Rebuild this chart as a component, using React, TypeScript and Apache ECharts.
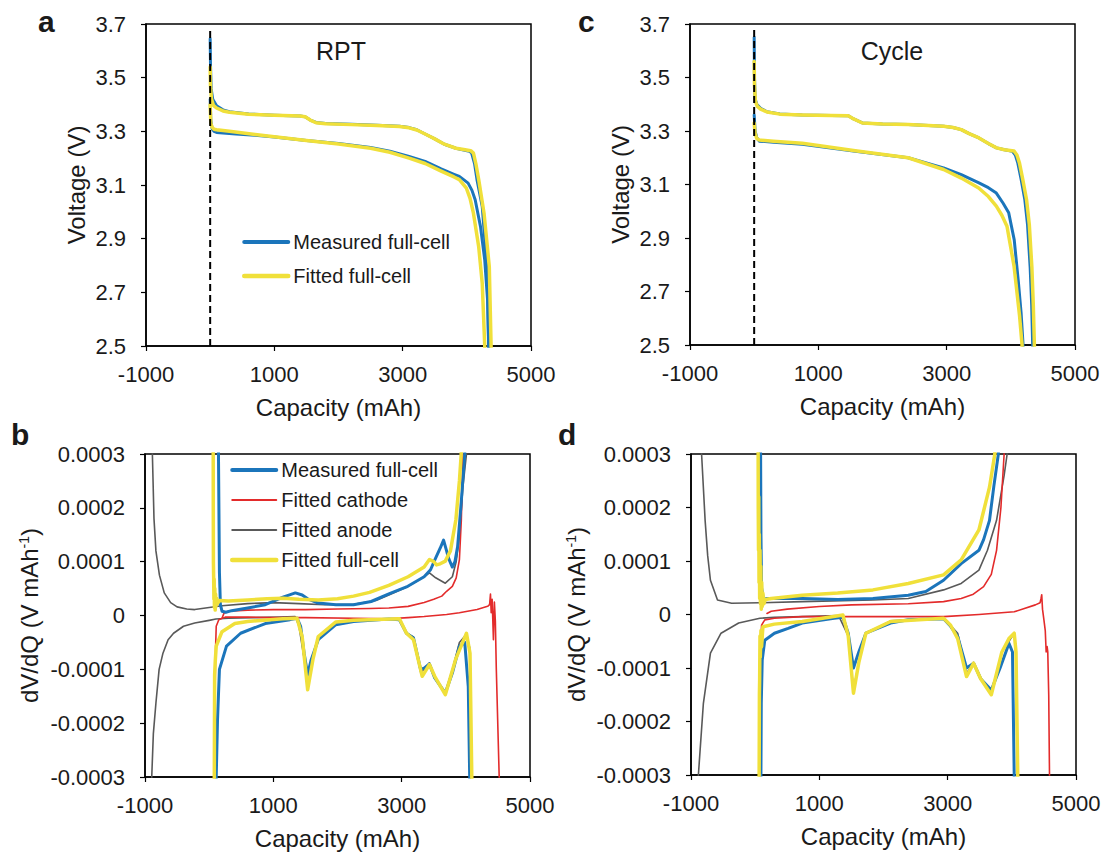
import React, { useEffect, useRef } from "react";
import * as echarts from "echarts";

const FONT = '"Liberation Sans", Arial, Helvetica, sans-serif';
const TXT = "#1a1a1a";
const BLUE = "#1B75BB";
const YELLOW = "#F0E03A";
const RED = "#E32B2B";
const GRAY = "#595959";

// ---------- Panel a (RPT) : voltage vs capacity ----------
const rptUpperMeasured = [[0,3.645],[5,3.55],[15,3.46],[40,3.42],[100,3.395],[200,3.38],[300,3.373],[600,3.365],[1000,3.36],[1400,3.357],[1480,3.354],[1560,3.342],[1650,3.333],[1800,3.329],[2200,3.326],[2600,3.323],[2950,3.319],[3100,3.314],[3220,3.306],[3350,3.29],[3500,3.272],[3650,3.252],[3830,3.237],[3950,3.23],[4040,3.226],[4075,3.219],[4120,3.18],[4158,3.12],[4240,3.02],[4296,2.846],[4323,2.734],[4340,2.5],[4342,2.45]];
const rptUpperFitted = [[0,3.54],[5,3.47],[20,3.42],[50,3.397],[100,3.387],[200,3.376],[300,3.371],[600,3.364],[1000,3.36],[1400,3.357],[1480,3.354],[1560,3.342],[1650,3.332],[1800,3.328],[2200,3.325],[2600,3.322],[2950,3.318],[3100,3.313],[3220,3.305],[3350,3.29],[3500,3.272],[3650,3.252],[3830,3.237],[3950,3.232],[4060,3.228],[4103,3.219],[4140,3.18],[4185,3.12],[4268,2.995],[4350,2.796],[4378,2.5],[4380,2.45]];
const rptLowerMeasured = [[0,3.42],[10,3.34],[30,3.31],[60,3.3],[100,3.296],[200,3.294],[400,3.29],[700,3.285],[1000,3.279],[1500,3.266],[2000,3.255],[2500,3.24],[2800,3.226],[3100,3.206],[3350,3.188],[3600,3.16],[3800,3.14],[3883,3.132],[3950,3.12],[4020,3.107],[4080,3.08],[4130,3.045],[4213,2.945],[4279,2.82],[4323,2.672],[4340,2.5],[4342,2.45]];
const rptLowerFitted = [[0,3.4],[10,3.33],[30,3.315],[60,3.308],[100,3.306],[300,3.3],[700,3.288],[1000,3.28],[1500,3.266],[2000,3.253],[2500,3.237],[2800,3.222],[3100,3.2],[3350,3.18],[3600,3.152],[3800,3.13],[3883,3.12],[3993,3.088],[4050,3.05],[4103,2.995],[4185,2.87],[4240,2.734],[4279,2.5],[4281,2.45]];

// ---------- Panel c (Cycle) : voltage vs capacity ----------
const cycUpperMeasured = [[0,3.65],[5,3.5],[15,3.42],[40,3.4],[100,3.385],[200,3.372],[400,3.364],[750,3.36],[1200,3.358],[1466,3.357],[1550,3.345],[1686,3.33],[2000,3.326],[2400,3.324],[2952,3.318],[3100,3.313],[3228,3.305],[3350,3.29],[3503,3.274],[3650,3.253],[3778,3.237],[3900,3.23],[4026,3.224],[4070,3.21],[4109,3.18],[4160,3.12],[4218,3.043],[4260,2.95],[4301,2.79],[4325,2.65],[4340,2.5],[4342,2.45]];
const cycUpperFitted = [[0,3.56],[5,3.47],[20,3.41],[50,3.392],[100,3.382],[200,3.371],[400,3.363],[750,3.36],[1200,3.358],[1466,3.357],[1550,3.345],[1686,3.33],[2000,3.326],[2400,3.324],[2952,3.318],[3100,3.313],[3228,3.305],[3350,3.29],[3503,3.274],[3650,3.253],[3778,3.237],[3900,3.23],[4050,3.225],[4095,3.21],[4135,3.18],[4185,3.12],[4245,3.043],[4288,2.95],[4328,2.79],[4350,2.65],[4367,2.5],[4369,2.45]];
const cycLowerMeasured = [[0,3.36],[15,3.3],[40,3.275],[80,3.262],[300,3.258],[750,3.25],[1576,3.224],[2400,3.2],[2952,3.162],[3228,3.137],[3503,3.106],[3650,3.088],[3774,3.068],[3880,3.03],[3967,2.994],[4053,2.893],[4119,2.732],[4160,2.62],[4191,2.5],[4193,2.45]];
const cycLowerFitted = [[0,3.33],[15,3.29],[40,3.272],[80,3.266],[300,3.262],[750,3.254],[1576,3.226],[2400,3.2],[2952,3.156],[3228,3.124],[3499,3.087],[3650,3.055],[3774,3.019],[3860,2.985],[3940,2.944],[4050,2.795],[4136,2.609],[4175,2.5],[4177,2.45]];

// ---------- Panel b (RPT) : dV/dQ ----------
const rptDvdqMeasuredUp = [[140,0.0004],[145,0.0003],[160,0.00008],[175,0.00002],[200,0.000008],[260,0.000006],[350,0.000009],[600,0.000014],[875,0.00002],[1150,0.000034],[1343,0.000042],[1450,0.000038],[1535,0.000031],[1700,0.000023],[1975,0.00002],[2250,0.00002],[2525,0.000026],[2800,0.00004],[3075,0.000053],[3350,0.000072],[3450,0.000085],[3515,0.000103],[3600,0.000125],[3653,0.00014],[3700,0.00012],[3735,0.000105],[3790,0.00009],[3830,0.0001],[3872,0.000128],[3928,0.00021],[3983,0.0003],[4000,0.00035]];
const rptDvdqMeasuredDown = [[105,-0.0004],[110,-0.0003],[130,-0.000194],[160,-0.0001],[270,-0.000057],[490,-0.000033],[875,-0.000015],[1260,-0.0000077],[1370,-0.000005],[1425,-0.00002],[1480,-0.00007],[1535,-0.00011],[1590,-0.000082],[1700,-0.000045],[1975,-0.000017],[2250,-0.000011],[2800,-0.0000065],[2965,-0.000008],[3075,-0.000033],[3185,-0.000042],[3295,-0.0001],[3350,-0.000098],[3433,-0.00009],[3515,-0.000116],[3680,-0.000144],[3790,-0.000107],[3900,-0.000057],[3983,-0.00005],[4038,-0.000132],[4060,-0.0003],[4065,-0.0004]];
const rptDvdqFittedUp = [[62,0.0004],[64,0.0002],[66,0.0001],[70,0.00007],[74,0.00003],[78,0.000068],[82,0.000015],[88,0.00005],[94,0.00001],[100,0.00004],[108,0.000018],[118,0.000032],[130,0.000022],[160,0.000028],[300,0.000027],[600,0.000029],[900,0.000031],[1150,0.000032],[1400,0.00003],[1700,0.000029],[2000,0.000031],[2250,0.000036],[2500,0.000043],[2800,0.000056],[3100,0.000072],[3350,0.00009],[3433,0.000104],[3500,0.0001],[3543,0.000094],[3600,0.000096],[3680,0.000101],[3760,0.00012],[3845,0.000178],[3900,0.00025],[3928,0.0003],[3940,0.00035]];
const rptDvdqFittedDown = [[78,-0.0004],[80,-0.0003],[85,-0.00011],[95,-0.000085],[110,-0.000057],[200,-0.00003],[400,-0.000015],[600,-0.000011],[1150,-0.000006],[1370,-0.000005],[1450,-0.00004],[1535,-0.000138],[1620,-0.00008],[1700,-0.000039],[1975,-0.000012],[2250,-0.000009],[2965,-0.000006],[3075,-0.000033],[3185,-0.000045],[3320,-0.000113],[3433,-0.000091],[3515,-0.000113],[3680,-0.000147],[3845,-0.00008],[4010,-0.000033],[4065,-0.00007],[4093,-0.0003],[4100,-0.0004]];
const rptCathodeUp = [[200,-0.000005],[230,0.000004],[300,0.000008],[600,0.00001],[1000,0.000011],[1500,0.000011],[2000,0.000012],[2500,0.000013],[2800,0.000014],[3100,0.000017],[3350,0.000024],[3500,0.00003],[3625,0.000036],[3700,0.000045],[3790,0.000054],[3850,0.00007],[3900,0.000104],[3930,0.000178],[3955,0.0003],[3965,0.00035]];
const rptCathodeDown = [[95,-0.00012],[100,-0.00006],[110,-0.00002],[150,-0.000008],[250,-0.000003],[600,-0.000003],[1000,-0.000004],[1500,-0.000004],[2250,-0.000005],[2800,-0.000006],[3100,-0.000004],[3350,-0.000002],[3700,0.000002],[3900,0.000005],[4175,0.000011],[4340,0.000017],[4370,0.00002],[4384,0.00004],[4395,0.000005],[4410,0.00003],[4430,-0.000045],[4445,0.000025],[4460,-0.00001],[4475,-0.0001],[4520,-0.0003],[4525,-0.0004]];
const rptAnodeUp = [[-890,0.0004],[-885,0.0003],[-860,0.00018],[-830,0.00012],[-775,0.000075],[-700,0.000042],[-600,0.000024],[-500,0.000016],[-350,0.000012],[-225,0.000011],[0,0.000015],[200,0.000018],[600,0.000022],[1000,0.000024],[1400,0.000022],[1800,0.00002],[2250,0.000021],[2600,0.000028],[2800,0.000038],[3100,0.000054],[3350,0.000072],[3433,0.000079],[3530,0.00007],[3680,0.00006],[3790,0.000072],[3850,0.0001],[3900,0.000147],[3955,0.00024],[4010,0.0003],[4030,0.00035]];
const rptAnodeDown = [[-900,-0.0004],[-895,-0.0003],[-870,-0.00022],[-830,-0.000163],[-780,-0.0001],[-720,-0.00007],[-640,-0.000045],[-555,-0.000033],[-400,-0.00002],[-225,-0.000014],[0,-0.000009],[105,-0.0000065],[300,-0.000005],[700,-0.000004],[1100,-0.000003],[1340,-0.000002],[1400,-0.00002],[1480,-0.00008],[1535,-0.000135],[1590,-0.00009],[1700,-0.00004],[1975,-0.000015],[2250,-0.00001],[2800,-0.000006],[2965,-0.000006],[3075,-0.000033],[3185,-0.00004],[3295,-0.000105],[3350,-0.0001],[3433,-0.000088],[3515,-0.000115],[3680,-0.000145],[3790,-0.0001],[3900,-0.00005],[4010,-0.000035],[4060,-0.00006],[4080,-0.0003],[4090,-0.0004]];

// ---------- Panel d (Cycle) : dV/dQ ----------
const cycDvdqMeasuredUp = [[80,0.0004],[85,0.0003],[90,0.00015],[100,0.00005],[130,0.000028],[184,0.00003],[734,0.00003],[1285,0.000028],[1835,0.00003],[2386,0.000036],[2660,0.000043],[2936,0.000064],[3211,0.000095],[3487,0.00012],[3560,0.00014],[3652,0.000176],[3720,0.00024],[3790,0.0003],[3800,0.00035]];
const cycDvdqMeasuredDown = [[88,-0.0004],[90,-0.0003],[95,-0.000166],[110,-0.000085],[150,-0.000048],[300,-0.000035],[514,-0.000026],[734,-0.000016],[1230,-0.000007],[1367,-0.000005],[1450,-0.000035],[1532,-0.0001],[1615,-0.00007],[1725,-0.000035],[2110,-0.000016],[2386,-0.00001],[2936,-0.000008],[3046,-0.000022],[3156,-0.000041],[3294,-0.0001],[3404,-0.000091],[3514,-0.00012],[3680,-0.000141],[3817,-0.0001],[3955,-0.000054],[4010,-0.00007],[4037,-0.0003],[4040,-0.0004]];
const cycDvdqFittedUp = [[45,0.0004],[48,0.0002],[52,0.00012],[56,0.00022],[60,0.00006],[65,0.00015],[70,0.00003],[76,0.00012],[82,0.00002],[88,0.00009],[95,0.00001],[102,0.00006],[110,0.000015],[120,0.00004],[135,0.00002],[160,0.000028],[250,0.00003],[734,0.000036],[1285,0.00004],[1835,0.000046],[2386,0.000058],[2936,0.000074],[3211,0.000102],[3487,0.000158],[3652,0.000238],[3735,0.0003],[3745,0.00035]];
const cycDvdqFittedDown = [[60,-0.0004],[62,-0.0003],[66,-0.00015],[70,-0.00012],[75,-0.00004],[80,-0.00008],[90,-0.00003],[100,-0.00006],[120,-0.000023],[300,-0.000018],[734,-0.000013],[1367,-0.000001],[1450,-0.00004],[1532,-0.000147],[1615,-0.00009],[1725,-0.000035],[2110,-0.000013],[2936,-0.000007],[3046,-0.00002],[3156,-0.000045],[3294,-0.000116],[3404,-0.000091],[3514,-0.00012],[3680,-0.00015],[3845,-0.00007],[3955,-0.000045],[4037,-0.000035],[4065,-0.00007],[4092,-0.0003],[4095,-0.0004]];
const cycCathodeUp = [[184,0.000002],[250,0.000006],[500,0.00001],[1000,0.000015],[1500,0.000018],[2386,0.00002],[2936,0.000024],[3211,0.00003],[3400,0.000038],[3560,0.000052],[3680,0.000075],[3762,0.00012],[3830,0.0002],[3880,0.0003],[3890,0.00035]];
const cycCathodeDown = [[70,-0.00023],[73,-0.0002],[80,-0.00007],[100,-0.00002],[150,-0.00001],[300,-0.000007],[734,-0.000004],[2386,-0.000004],[2936,-0.000004],[3487,0],[4037,0.000005],[4367,0.000018],[4440,0.000022],[4455,0.00003],[4466,0.000037],[4478,0.00001],[4500,-0.00001],[4521,-0.00003],[4535,-0.00007],[4550,-0.00006],[4560,-0.00007],[4575,-0.00015],[4587,-0.0003],[4590,-0.0004]];
const cycAnodeUp = [[-840,0.0004],[-835,0.0003],[-780,0.000176],[-740,0.00011],[-697,0.000064],[-587,0.000027],[-367,0.000021],[73,0.000022],[734,0.000024],[1835,0.000027],[2386,0.00003],[2936,0.000046],[3211,0.000058],[3487,0.000083],[3620,0.00012],[3762,0.000176],[3880,0.00026],[3927,0.0003],[3940,0.00035]];
const cycAnodeDown = [[-890,-0.0004],[-885,-0.0003],[-807,-0.000166],[-697,-0.000072],[-532,-0.000035],[-257,-0.000016],[73,-0.000007],[300,-0.000005],[734,-0.000004],[1300,-0.000002],[1450,-0.00004],[1532,-0.00014],[1615,-0.00009],[1725,-0.000035],[2110,-0.000012],[2936,-0.000006],[3156,-0.000035],[3294,-0.00011],[3404,-0.00009],[3514,-0.000118],[3680,-0.000148],[3845,-0.00007],[4037,-0.000035],[4060,-0.00006],[4085,-0.0003],[4090,-0.0004]];

// zero-capacity reference line
const zeroRefLine = [[0, 2.5], [0, 3.68]];

const capRange = { min: -1000, max: 5000, step: 2000 };
const voltRange = { min: 2.5, max: 3.7, step: 0.2 };
const dvdqRange = { min: -0.0003, max: 0.0003, step: 0.0001 };

const NAME_M = "Measured full-cell";
const NAME_C = "Fitted cathode";
const NAME_A = "Fitted anode";
const NAME_F = "Fitted full-cell";

function lineSeries(name: string, data: number[][], color: string, width: number, gi: number, z: number) {
  return {
    type: "line",
    name,
    data,
    xAxisIndex: gi,
    yAxisIndex: gi,
    symbol: "none",
    showSymbol: false,
    clip: true,
    silent: true,
    z,
    lineStyle: { color, width, cap: "round", join: "round" },
    itemStyle: { color },
  };
}

function makeX(gi: number) {
  return {
    type: "value",
    gridIndex: gi,
    min: capRange.min,
    max: capRange.max,
    interval: capRange.step,
    name: "Capacity (mAh)",
    nameLocation: "middle",
    nameGap: 49,
    nameTextStyle: { fontSize: 24, color: TXT, fontFamily: FONT },
    axisLine: { show: true, onZero: false, lineStyle: { color: "#000", width: 1.5 } },
    axisTick: { show: true, inside: false, length: 5, lineStyle: { color: "#000", width: 1.2 } },
    axisLabel: { fontSize: 22, color: TXT, fontFamily: FONT, margin: 17, formatter: (v: number) => String(v) },
    splitLine: { show: false },
  };
}

function makeYVolt(gi: number) {
  return {
    type: "value",
    gridIndex: gi,
    min: voltRange.min,
    max: voltRange.max,
    interval: voltRange.step,
    name: "Voltage (V)",
    nameLocation: "middle",
    nameRotate: 90,
    nameGap: 58,
    nameTextStyle: { fontSize: 24, color: TXT, fontFamily: FONT },
    axisLine: { show: true, onZero: false, lineStyle: { color: "#000", width: 1.5 } },
    axisTick: { show: true, inside: false, length: 5, lineStyle: { color: "#000", width: 1.2 } },
    axisLabel: { fontSize: 22, color: TXT, fontFamily: FONT, margin: 20, formatter: (v: number) => v.toFixed(1) },
    splitLine: { show: false },
  };
}

function makeYDvdq(gi: number, gap: number) {
  return {
    type: "value",
    gridIndex: gi,
    min: dvdqRange.min,
    max: dvdqRange.max,
    interval: dvdqRange.step,
    name: "{n|dV/dQ (V mAh}{s|-1}{n|)}",
    nameLocation: "middle",
    nameRotate: 90,
    nameGap: gap,
    nameTextStyle: {
      color: TXT,
      fontFamily: FONT,
      fontSize: 24,
      rich: {
        n: { fontSize: 24, color: TXT, fontFamily: FONT },
        s: { fontSize: 14, color: TXT, fontFamily: FONT, verticalAlign: "top" },
      },
    },
    axisLine: { show: true, onZero: false, lineStyle: { color: "#000", width: 1.5 } },
    axisTick: { show: true, inside: false, length: 5, lineStyle: { color: "#000", width: 1.2 } },
    axisLabel: {
      fontSize: 22,
      color: TXT,
      fontFamily: FONT,
      margin: 20,
      formatter: (v: number) => (Math.abs(v) < 1e-9 ? "0" : v.toFixed(4)),
    },
    splitLine: { show: false },
  };
}

function gridBox(left: number, top: number, width: number, height: number) {
  return { left, top, width, height, show: true, borderColor: "#000", borderWidth: 1.5, backgroundColor: "transparent" };
}

function panelText(text: string, x: number, y: number, size: number, bold: boolean, align = "left") {
  return {
    type: "text",
    x,
    y,
    silent: true,
    z: 100,
    style: {
      text,
      fill: TXT,
      font: `${bold ? "bold " : ""}${size}px ${FONT}`,
      textAlign: align,
      textVerticalAlign: "middle",
      verticalAlign: "middle",
    },
  };
}

function legendItem(name: string, color: string, width: number) {
  return { name, lineStyle: { color, width }, itemStyle: { opacity: 0 } };
}

export default function App() {
  const ref = useRef<HTMLDivElement>(null);

  useEffect(() => {
    if (!ref.current) return;
    const chart = echarts.init(ref.current, undefined, { renderer: "svg" });

    const series: any[] = [
      // panel a (grid 0)
      lineSeries(NAME_M, rptUpperMeasured, BLUE, 3, 0, 2),
      lineSeries(NAME_M, rptLowerMeasured, BLUE, 3, 0, 2),
      lineSeries(NAME_F, rptUpperFitted, YELLOW, 3.5, 0, 3),
      lineSeries(NAME_F, rptLowerFitted, YELLOW, 3.5, 0, 3),
      {
        type: "line", data: zeroRefLine, xAxisIndex: 0, yAxisIndex: 0, symbol: "none", silent: true, z: 5,
        lineStyle: { color: "#000", width: 2, type: [7, 4] },
      },
      // panel b (grid 1)
      lineSeries(NAME_A, rptAnodeUp, GRAY, 1.6, 1, 2),
      lineSeries(NAME_A, rptAnodeDown, GRAY, 1.6, 1, 2),
      lineSeries(NAME_C, rptCathodeUp, RED, 1.6, 1, 2),
      lineSeries(NAME_C, rptCathodeDown, RED, 1.6, 1, 2),
      lineSeries(NAME_M, rptDvdqMeasuredUp, BLUE, 3, 1, 3),
      lineSeries(NAME_M, rptDvdqMeasuredDown, BLUE, 3, 1, 3),
      lineSeries(NAME_F, rptDvdqFittedUp, YELLOW, 3.5, 1, 4),
      lineSeries(NAME_F, rptDvdqFittedDown, YELLOW, 3.5, 1, 4),
      // panel c (grid 2)
      lineSeries(NAME_M, cycUpperMeasured, BLUE, 3, 2, 2),
      lineSeries(NAME_M, cycLowerMeasured, BLUE, 3, 2, 2),
      lineSeries(NAME_F, cycUpperFitted, YELLOW, 3.5, 2, 3),
      lineSeries(NAME_F, cycLowerFitted, YELLOW, 3.5, 2, 3),
      {
        type: "line", data: zeroRefLine, xAxisIndex: 2, yAxisIndex: 2, symbol: "none", silent: true, z: 5,
        lineStyle: { color: "#000", width: 2, type: [7, 4] },
      },
      // panel d (grid 3)
      lineSeries(NAME_A, cycAnodeUp, GRAY, 1.6, 3, 2),
      lineSeries(NAME_A, cycAnodeDown, GRAY, 1.6, 3, 2),
      lineSeries(NAME_C, cycCathodeUp, RED, 1.6, 3, 2),
      lineSeries(NAME_C, cycCathodeDown, RED, 1.6, 3, 2),
      lineSeries(NAME_M, cycDvdqMeasuredUp, BLUE, 3, 3, 3),
      lineSeries(NAME_M, cycDvdqMeasuredDown, BLUE, 3, 3, 3),
      lineSeries(NAME_F, cycDvdqFittedUp, YELLOW, 3.5, 3, 4),
      lineSeries(NAME_F, cycDvdqFittedDown, YELLOW, 3.5, 3, 4),
    ];

    const legendCommon = {
      orient: "vertical",
      itemWidth: 44,
      itemHeight: 14,
      padding: 0,
      selectedMode: false,
      itemStyle: { opacity: 0 },
      textStyle: { fontSize: 20, color: TXT, fontFamily: FONT },
    };

    chart.setOption({
      animation: false,
      backgroundColor: "#fff",
      textStyle: { fontFamily: FONT },
      grid: [
        gridBox(146, 24, 385, 322),
        gridBox(145, 454, 385, 323),
        gridBox(690, 24, 385, 321),
        gridBox(691, 454, 385, 321),
      ],
      xAxis: [makeX(0), makeX(1), makeX(2), makeX(3)],
      yAxis: [makeYVolt(0), makeYDvdq(1, 104), makeYVolt(2), makeYDvdq(3, 103)],
      legend: [
        {
          ...legendCommon,
          data: [legendItem(NAME_M, BLUE, 4), legendItem(NAME_F, YELLOW, 4.5)],
          left: 242, top: 232, itemGap: 14,
        },
        {
          ...legendCommon,
          data: [legendItem(NAME_M, BLUE, 4), legendItem(NAME_C, RED, 2), legendItem(NAME_A, GRAY, 2), legendItem(NAME_F, YELLOW, 4.5)],
          left: 230, top: 460, itemGap: 10,
        },
      ],
      graphic: [
        panelText("a", 38, 21.6, 30, true),
        panelText("b", 11, 434.6, 30, true),
        panelText("c", 578, 21.6, 30, true),
        panelText("d", 558, 434.6, 30, true),
        panelText("RPT", 341, 51.3, 25, false, "center"),
        panelText("Cycle", 892, 51, 25, false, "center"),
      ],
      series,
    });

    return () => chart.dispose();
  }, []);

  return (
    <div
      ref={ref}
      style={{ position: "fixed", left: 0, top: 0, width: 1110, height: 857, background: "#fff" }}
    />
  );
}
